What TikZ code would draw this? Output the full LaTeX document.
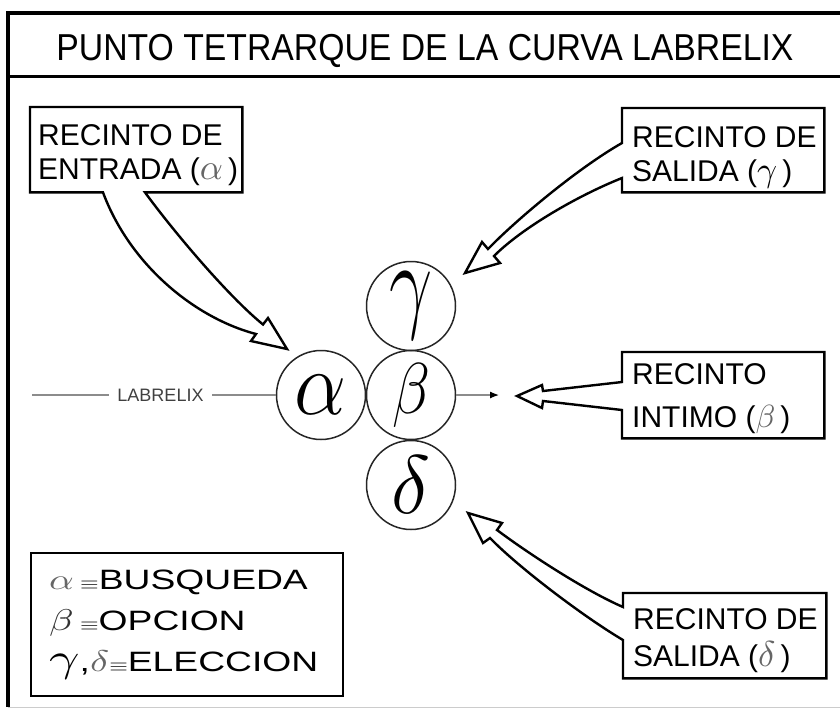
\documentclass[tikz,border=0pt]{standalone}
\usepackage{fontspec}
\setmainfont{Liberation Sans}
\usetikzlibrary{calc,arrows.meta}
\newcommand{\gk}[2]{\scalebox{#1}{\fontsize{10}{12}\selectfont$#2$}}
\newcommand{\gkxy}[3]{\scalebox{#1}[#2]{\fontsize{12}{14}\selectfont$#3$}}
\begin{document}
\begin{tikzpicture}[x=1pt,y=-1pt,
  frameline/.style={line width=3.5pt,draw=black},
  callout/.style={draw=black,fill=white,line width=2.4pt,line join=miter},
  boxarea/.style={inner sep=0pt,draw=none,anchor=north west},
  boxtext/.style={inner sep=0pt,anchor=north west,align=left},
  ring/.style={circle,draw=black!85,line width=1.5pt,minimum size=89pt,inner sep=0pt},
  flow/.style={draw=black!45,line width=1.2pt}]
\useasboundingbox (0,0) rectangle (840,710);
% frame
\draw[frameline] (845,13) -- (8,13) -- (8,707);
\draw[line width=3pt] (8,76) -- (845,76);
\draw[black!20,line width=1pt] (8,707) -- (845,707);
\node[anchor=base,inner sep=0pt,font=\fontsize{37.5}{40}\selectfont] (title) at (425,60)
  {\scalebox{0.9}[1]{PUNTO TETRARQUE DE LA CURVA LABRELIX}};
% circles
\node[ring] (a) at (321,395) {\gkxy{6.9}{7.6}{\alpha}};
\node[ring] (b) at (411,395) {\gkxy{5.2}{6.0}{\beta}};
\node[ring] (g) at (411,306) {\gkxy{6.4}{9.0}{\gamma}};
\node[ring] (d) at (411,485) {\gkxy{6.9}{6.9}{\delta}};
% labrelix line
\coordinate (lstart) at (32,395);
\coordinate (lend) at (499,395);
\node[inner xsep=8.5pt,inner ysep=0pt,text=black!75,font=\fontsize{18}{20}\selectfont] (lab) at (160.5,395) {LABRELIX};
\draw[flow] (lstart) -- (lab.west);
\draw[flow] (lab.east) -- (a.west);
\draw[flow,-{Latex[length=9pt,width=7pt,color=black]}] (b.east) -- (lend);
% box areas
\node[boxarea,minimum width=212pt,minimum height=85pt] (entr) at (30,107) {};
\node[boxarea,minimum width=202pt,minimum height=84pt] (salg) at (622,108) {};
\node[boxarea,minimum width=202pt,minimum height=86pt] (intb) at (622,352) {};
\node[boxarea,minimum width=203pt,minimum height=85pt] (sald) at (623,593) {};
% arrow tips
\coordinate (tipA) at ($(a)+(-34,-46)$);
\coordinate (tipG) at ($(g)+(54,-33)$);
\coordinate (tipB) at ($(b)+(106,1)$);
\coordinate (tipD) at ($(d)+(57,28)$);
% callouts
\draw[callout] (entr.south west) -- (entr.north west) -- (entr.north east) -- (entr.south east)
  -- ($(entr.south west)+(115,0)$) .. controls (174,232) and (228,296) .. (263,324.5)
  -- (268,318) -- (tipA) -- (251,341) -- (256,334)
  .. controls (195,318) and (130,265) .. ($(entr.south west)+(73,0)$) -- cycle;
\draw[callout] (salg.north west) -- (salg.north east) -- (salg.south east) -- (salg.south west)
  -- ($(salg.north west)+(0,70)$) .. controls (577,196) and (522,228) .. (494,256)
  -- (500,263) -- (tipG) -- (482,242) -- (488,249)
  .. controls (516,220) and (578,168) .. ($(salg.north west)+(0,35)$) -- cycle;
\draw[callout] (intb.north west) -- (intb.north east) -- (intb.south east) -- (intb.south west)
  -- ($(intb.north west)+(0,58)$) -- (543,401) -- (542,408) -- (tipB) -- (542,385) -- (543,391)
  -- ($(intb.north west)+(0,30)$) -- cycle;
\draw[callout] (sald.north west) -- (sald.north east) -- (sald.south east) -- (sald.south west)
  -- ($(sald.north west)+(0,47)$) .. controls (584,617) and (518,567) .. (490,538)
  -- (483,543) -- (tipD) -- (502,523) -- (497,530)
  .. controls (529,554) and (586,591) .. ($(sald.north west)+(0,14)$) -- cycle;
% box texts
\node[boxtext,font=\fontsize{30}{34}\selectfont] (entrt) at (38,124)
  {RECINTO DE\\ENTRADA ({\color{black!60}\gk{3.6}{\alpha}}\,)};
\node[boxtext,font=\fontsize{30}{34}\selectfont] (salgt) at (632,126)
  {RECINTO DE\\SALIDA (\gk{3.5}{\gamma}\,)};
\node[boxtext,font=\fontsize{30}{43}\selectfont] (intbt) at (632,363)
  {RECINTO\\INTIMO ({\color{black!60}\gk{3.2}{\beta}}\,)};
\node[boxtext,font=\fontsize{30}{37}\selectfont] (saldt) at (633,608)
  {RECINTO DE\\SALIDA ({\color{black!60}\gk{3.6}{\delta}}\,)};
% legend
\node[boxarea,draw=black,line width=2.4pt,minimum width=312pt,minimum height=143pt] (leg) at (30,552) {};
\node[boxtext,font=\fontsize{28}{41}\selectfont] (legt) at ($(leg.north west)+(19,18)$)
  {\scalebox{1.33}[1]{{\color{black!60}\gk{2.9}{\alpha}}\,\gk{1.8}{\equiv}BUSQUEDA}\\
   \scalebox{1.33}[1]{{\color{black!80}\gk{3.0}{\beta}}\,\gk{1.8}{\equiv}OPCION}\\
   \scalebox{1.33}[1]{\gk{4.0}{\gamma},{\color{black!60}\gk{3.0}{\delta}}\gk{1.8}{\equiv}ELECCION}};
\end{tikzpicture}
\end{document}
